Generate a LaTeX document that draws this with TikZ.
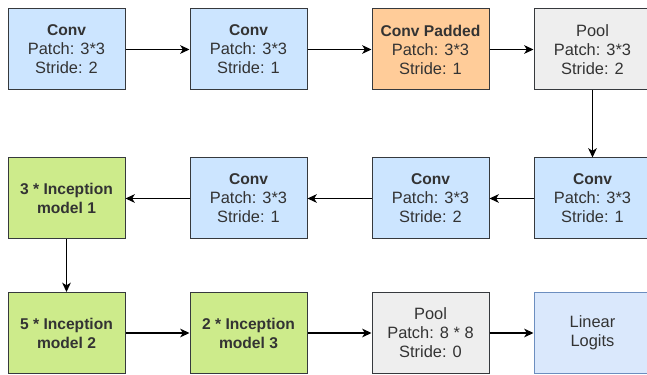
\documentclass[tikz,border=0pt]{standalone}
\usepackage{fontspec}
\setmainfont{Liberation Sans}
\usetikzlibrary{arrows.meta}
\definecolor{convblue}{HTML}{CCE5FF}
\definecolor{padorange}{HTML}{FFCC99}
\definecolor{poolgrey}{HTML}{EEEEEE}
\definecolor{incgreen}{HTML}{CDEB8B}
\definecolor{linblue}{HTML}{DAE8FC}
\definecolor{linedge}{HTML}{6C8EBF}
\definecolor{edgegrey}{HTML}{36393D}
\definecolor{textgrey}{HTML}{333333}
\newcommand{\headtxt}[1]{{\fontsize{11.7}{14.3}\selectfont\bfseries #1}}
\begin{document}
\begin{tikzpicture}[x=0.75pt, y=0.75pt,
    layer/.style={draw=edgegrey, line width=0.75pt, minimum width=87.75pt,
      minimum height=60.75pt, inner sep=0pt, align=center, text=textgrey,
      font=\fontsize{12.3}{14.3}\selectfont},
    conv/.style={layer, fill=convblue},
    padded/.style={layer, fill=padorange},
    pool/.style={layer, fill=poolgrey},
    incep/.style={layer, fill=incgreen, font=\fontsize{11.7}{14.3}\selectfont\bfseries},
    linear/.style={layer, fill=linblue, draw=linedge},
    flow/.style={-{Stealth[length=7pt, width=6.5pt, inset=2pt]}, line width=0.9pt, black}]
    \useasboundingbox (0,0) rectangle (647,375);
    \clip (0,0) rectangle (647,375);
    % row 1
    \node[conv] (convA) at (66.5,325.5) {\headtxt{Conv}\\Patch: 3*3\\Stride: 2};
    \node[conv] (convB) at (248.5,325.5) {\headtxt{Conv}\\Patch: 3*3\\Stride: 1};
    \node[padded] (convPad) at (430.5,325.5) {\headtxt{Conv Padded}\\Patch: 3*3\\Stride: 1};
    \node[pool] (poolA) at (592.5,325.5) {Pool\\Patch: 3*3\\Stride: 2};
    % row 2
    \node[conv] (convC) at (592.5,176.5) {\headtxt{Conv}\\Patch: 3*3\\Stride: 1};
    \node[conv] (convD) at (430.5,176.5) {\headtxt{Conv}\\Patch: 3*3\\Stride: 2};
    \node[conv] (convE) at (248.5,176.5) {\headtxt{Conv}\\Patch: 3*3\\Stride: 1};
    \node[incep] (incA) at (66.5,176.5) {3 * Inception\\model 1};
    % row 3
    \node[incep] (incB) at (66.5,42) {5 * Inception\\model 2};
    \node[incep] (incC) at (248.5,42) {2 * Inception\\model 3};
    \node[pool] (poolB) at (430.5,42) {Pool\\Patch: 8 * 8\\Stride: 0};
    \node[linear] (logits) at (592.5,42) {Linear\\Logits};
    \foreach \a/\b in {convA/convB,convB/convPad,convPad/poolA,poolA/convC,
        convC/convD,convD/convE,convE/incA,incA/incB,incB/incC,incC/poolB,poolB/logits}
      \draw[flow] (\a) -- (\b);
\end{tikzpicture}
\end{document}
